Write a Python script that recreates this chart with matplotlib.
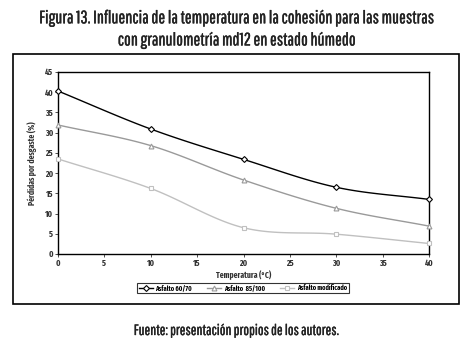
import numpy as np
import matplotlib
matplotlib.use("Agg")
import matplotlib.pyplot as plt
import matplotlib.patheffects as pe
from matplotlib.patches import Rectangle
from matplotlib.lines import Line2D

temperatura = [0, 10, 20, 30, 40]
asfalto_60_70 = [40.3, 30.9, 23.4, 16.5, 13.5]
asfalto_85_100 = [31.9, 26.8, 18.3, 11.3, 6.9]
asfalto_modificado = [23.5, 16.2, 6.5, 4.9, 2.6]
series_labels = ["Asfalto 60/70", "Asfalto  85/100", "Asfalto modificado"]
x_ticks = [0, 5, 10, 15, 20, 25, 30, 35, 40]
y_ticks = [0, 5, 10, 15, 20, 25, 30, 35, 40, 45]

TITLE_FONT = ["Pathway Gothic One", "DejaVu Sans"]
SMALL_FONT = ["Fira Sans Extra Condensed", "DejaVu Sans"]
plt.rcParams["font.family"] = SMALL_FONT


def smooth(x, y, n=30):
    # Catmull-Rom style smoothing through the data points (drawing only)
    x = np.asarray(x, float)
    y = np.asarray(y, float)
    px = np.concatenate([[2 * x[0] - x[1]], x, [2 * x[-1] - x[-2]]])
    py = np.concatenate([[2 * y[0] - y[1]], y, [2 * y[-1] - y[-2]]])
    xs, ys = [], []
    for i in range(1, len(px) - 2):
        t = np.linspace(0, 1, n, endpoint=False)
        for p, out in ((px, xs), (py, ys)):
            p0, p1, p2, p3 = p[i - 1], p[i], p[i + 1], p[i + 2]
            out.extend(0.5 * ((2 * p1) + (-p0 + p2) * t +
                              (2 * p0 - 5 * p1 + 4 * p2 - p3) * t ** 2 +
                              (-p0 + 3 * p1 - 3 * p2 + p3) * t ** 3))
    xs.append(x[-1])
    ys.append(y[-1])
    return np.array(xs), np.array(ys)


fig = plt.figure(figsize=(4.73, 3.47), dpi=100)
W, H = 473, 347

# outer frame
fig.patches.append(Rectangle((12.5 / W, 1 - 304 / H), (459 - 12.5) / W, (304 - 54) / H,
                             transform=fig.transFigure, fill=False, lw=1.2, ec="black"))

thick = [pe.withStroke(linewidth=0.25, foreground="#222222")]
fig.text(0.5, 1 - 18 / H, "Figura 13. Influencia de la temperatura en la cohesión para las muestras",
         ha="center", va="center", fontsize=12.9, color="#222222", family=TITLE_FONT,
         path_effects=thick)
fig.text(0.5, 1 - 40 / H, "con granulometría md12 en estado húmedo",
         ha="center", va="center", fontsize=12.9, color="#222222", family=TITLE_FONT,
         path_effects=thick)
fig.text(0.5, 1 - 331 / H, "Fuente: presentación propios de los autores.",
         ha="center", va="center", fontsize=10.8, color="#222222", family=TITLE_FONT,
         path_effects=thick)

ax = fig.add_axes([58 / W, 1 - 254 / H, (429 - 58) / W, (254 - 72) / H])

styles = [
    (asfalto_60_70, "black", "D", 3.0),
    (asfalto_85_100, "#9a9a9a", "^", 3.5),
    (asfalto_modificado, "#c0c0c0", "s", 3.0),
]
handles = []
for (vals, col, mk, ms), lab in zip(styles, series_labels):
    sx, sy = smooth(temperatura, vals)
    ax.plot(sx, sy, color=col, lw=1.0, zorder=2)
    ax.plot(temperatura, vals, ls="none", marker=mk, ms=ms, mfc="white",
            mec=col, mew=0.8, zorder=3, clip_on=False)
    handles.append(Line2D([], [], color=col, lw=1.0, marker=mk, ms=ms,
                          mfc="white", mec=col, mew=0.8, label=lab))

ax.set_xlim(0, 40)
ax.set_ylim(0, 45)
ax.set_xticks(x_ticks)
ax.set_yticks(y_ticks)
ax.tick_params(axis="both", labelsize=6.3, length=2, width=0.6, pad=1.5, direction="out",
               colors="#333333")
for lbl in ax.get_xticklabels() + ax.get_yticklabels():
    lbl.set_fontweight("bold")
for s in ax.spines.values():
    s.set_linewidth(1.0)

ax.set_xlabel("Temperatura (°C)", fontsize=6, fontweight="bold", labelpad=2, color="#333333")
ax.set_ylabel("Pérdidas por desgaste (%)", fontsize=6, fontweight="bold", labelpad=5, color="#333333")

leg = fig.legend(handles=handles, loc="center", bbox_to_anchor=(243 / W, 1 - 288 / H),
                 ncol=3, frameon=True, fancybox=False, edgecolor="black",
                 handlelength=2.0, handletextpad=0.4, columnspacing=2.2,
                 borderpad=0.25, prop={"weight": "bold", "size": 5, "family": SMALL_FONT})
leg.get_frame().set_linewidth(0.8)

fig.savefig("out.png", dpi=100)
